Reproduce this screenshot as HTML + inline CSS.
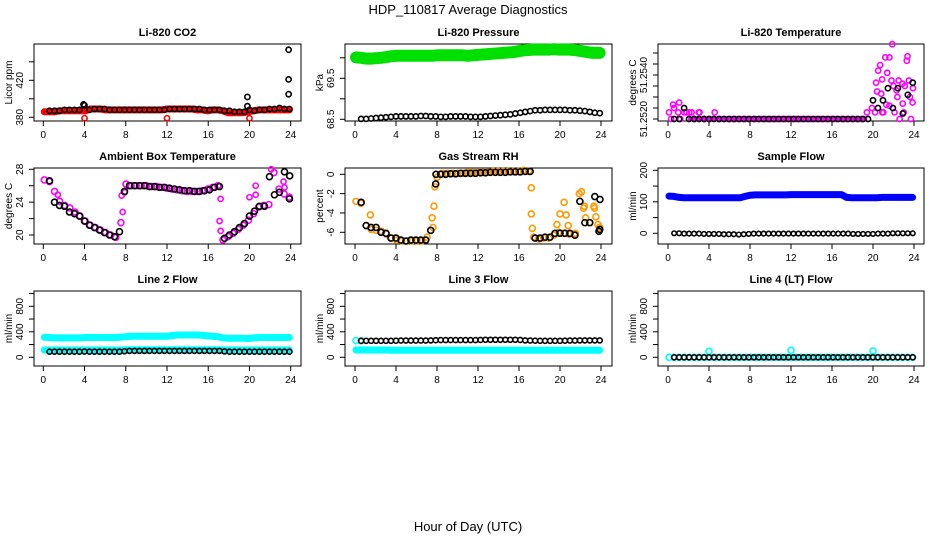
<!DOCTYPE html>
<html><head><meta charset="utf-8"><style>
body{margin:0;background:#fff}
svg{display:block;font-family:"Liberation Sans",Arial,sans-serif}
</style></head><body>
<svg id="chart" width="936" height="540" viewBox="0 0 936 540">
<text x="468" y="14" text-anchor="middle" font-size="13">HDP_110817  Average Diagnostics</text>
<text x="468" y="531" text-anchor="middle" font-size="13">Hour of Day (UTC)</text>
</svg>
<script>
const xTicks=[0,4,8,12,16,20,24];
const blackHours=Array.from({length:49},(_,k)=>0.6+k*0.485);
const colorHours=Array.from({length:49},(_,k)=>0.1+k*0.495);

const co2Red=[386,386,386,387,387,387,387,387,387,389,389,389,388,388,388,388,388,388,388,388,388,388,388,388,389,389,389,389,389,389,388,388,387,388,388,387,385,385,385,385,386,387,388,388,388,388,388,388,388];
const co2RedExtraX=[4.0,12.0,20.0];
const co2RedExtraY=[379,379,379];
const co2Black=[387,387,387,388,388,388,388,393,388,389,389,389,388,388,388,388,388,388,388,388,388,388,388,388,389,389,389,389,389,389,389,388,388,388,388,387,387,386,386,386,388,387,388,388,389,389,390,389,389];
const co2BlackExtraX=[3.9,19.8,19.8,23.8,23.8,23.8];
const co2BlackExtraY=[394,402,392,405,421,453];

const presGreen=[70.01,70.0,69.98,69.98,69.99,70.0,70.02,70.04,70.05,70.05,70.05,70.05,70.05,70.05,70.05,70.05,70.06,70.06,70.06,70.06,70.06,70.06,70.05,70.06,70.07,70.08,70.09,70.1,70.11,70.12,70.13,70.14,70.16,70.18,70.19,70.2,70.2,70.2,70.2,70.21,70.2,70.2,70.2,70.19,70.17,70.15,70.13,70.12,70.12];
const presBlack=[68.51,68.51,68.52,68.53,68.54,68.55,68.56,68.57,68.57,68.57,68.57,68.57,68.58,68.58,68.57,68.57,68.56,68.56,68.57,68.57,68.57,68.57,68.56,68.56,68.56,68.57,68.58,68.59,68.6,68.61,68.62,68.64,68.66,68.68,68.7,68.72,68.72,68.73,68.73,68.73,68.73,68.73,68.72,68.72,68.71,68.7,68.68,68.66,68.65];

const tempMag=[0.6,1.0,1.5,0.6,0.6,0,0.6,0,0,0.6,0,0,0,0,0,0,0,0,0,0,0,0,0,0,0,0,0,0,0,0,0,0,0,0,0,0,0,0,0,0.6,1.0,2.5,3.6,4.2,6.8,2.0,3.2,5.7,1.5];
const tempMagExtraX=[0.3,0.5,1.0,1.2,1.8,2.3,3.0,20.2,20.3,20.5,20.7,20.8,21.0,21.2,21.6,21.6,21.8,22.0,22.3,22.5,22.6,22.9,23.0,23.3,23.5,23.6,23.7,23.9,20.9,21.3,22.1,23.1];
const tempMagExtraY=[0,1.3,0.6,0,0.6,0.6,0.6,0.6,3.3,4.4,4.9,2.3,0.6,5.6,5.6,1.2,3.5,3.0,2.6,3.5,0,1.4,0.6,5.3,3.5,2.0,0,2.8,0.6,1.3,0.6,3.0];
const tempBlack=[0,0,1.0,0,0,0,0,0,0,0,0,0,0,0,0,0,0,0,0,0,0,0,0,0,0,0,0,0,0,0,0,0,0,0,0,0,0,0,0,0,1.7,1.0,1.7,2.8,1.0,2.8,0.5,2.2,3.3];

const ambMag=[26.7,26.5,25.3,24.1,23.6,23.3,22.8,22.3,21.7,21.2,20.9,20.6,20.3,20.0,19.7,21.5,26.2,26.0,26.0,26.0,26.0,25.9,25.9,25.8,25.7,25.6,25.5,25.4,25.3,25.3,25.3,25.4,25.6,25.8,26.0,19.4,19.8,20.2,20.7,21.2,21.8,22.6,23.4,23.6,23.7,27.6,25.6,25.0,24.6];
const ambMagExtraX=[7.7,7.6,17.2,17.1,17.2,1.4,20.0,20.6,20.6,22.1,23.3,23.4,7.9];
const ambMagExtraY=[22.8,24.8,24.4,21.7,20.5,24.9,24.6,26.0,24.9,28.0,26.5,25.8,25.2];
const ambBlack=[26.6,24.0,23.6,23.5,22.8,22.6,22.3,21.7,21.2,20.9,20.6,20.3,20.0,19.8,20.4,25.3,26.0,26.0,26.0,26.0,25.9,25.9,25.8,25.8,25.7,25.6,25.5,25.4,25.4,25.3,25.3,25.4,25.5,25.8,25.9,19.6,20.0,20.4,20.9,21.4,22.3,22.9,23.5,23.5,27.1,24.9,25.2,27.7,24.4];
const ambBlackExtraX=[23.9];
const ambBlackExtraY=[27.2];

const rhOrange=[-2.8,-3.0,-5.3,-5.7,-5.8,-5.9,-6.2,-6.6,-6.8,-6.9,-6.9,-6.9,-6.9,-6.9,-6.5,-4.5,-0.3,0.1,0.1,0.1,0.1,0.1,0.2,0.2,0.2,0.2,0.2,0.3,0.3,0.3,0.3,0.3,0.3,0.4,0.3,-6.5,-6.7,-6.6,-6.6,-6.3,-6.0,-6.1,-6.2,-6.2,-2.0,-3.3,-5.0,-3.5,-5.5];
const rhOrangeExtraX=[1.5,7.6,7.7,7.8,17.2,17.2,17.3,20.0,20.4,20.6,20.8,19.7,22.1,22.3,22.5,23.3,23.5,23.7,21.5];
const rhOrangeExtraY=[-4.2,-5.5,-3.3,-1.3,-1.4,-4.1,-5.6,-4.1,-2.9,-4.2,-5.3,-5.2,-1.8,-3.5,-4.5,-3.3,-4.4,-5.2,-6.1];
const rhBlack=[-2.9,-5.3,-5.5,-5.5,-6.0,-6.1,-6.6,-6.6,-6.8,-6.9,-6.8,-6.8,-6.8,-6.8,-5.8,-1.0,0.0,0.0,0.05,0.05,0.1,0.1,0.1,0.1,0.15,0.15,0.2,0.2,0.2,0.2,0.25,0.25,0.25,0.3,0.3,-6.6,-6.6,-6.5,-6.5,-6.1,-6.1,-6.1,-6.1,-6.3,-2.8,-5.0,-5.0,-2.3,-5.7];
const rhBlackExtraX=[7.9,23.9,23.8];
const rhBlackExtraY=[0.0,-2.6,-5.9];

const sampleBlue=[118,117,114,113,113,113,113,113,113,113,113,113,113,113,113,117,121,122,122,122,122,122,122,122,123,123,123,123,123,123,123,123,123,123,123,114,113,113,113,113,113,113,114,114,114,114,114,114,114];
const sampleBlack=[0,0,-1,-1,-1,-1,-2,-2,-2,-2,-3,-3,-3,-4,-3,-2,-1,-1,-1,-1,-1,-1,-1,-1,-1,-1,-1,-1,-1,-1,-1,-1,-1,-1,-1,-1,-2,-2,-2,-2,-2,-1,-1,-1,0,0,0,0,0];

const line2CyanHigh=[315,310,305,305,305,305,305,305,310,310,310,310,310,310,310,315,325,330,330,330,330,330,330,330,330,340,350,350,350,350,350,345,335,330,325,305,300,300,300,300,295,305,310,310,310,310,310,310,310];
const line2CyanLow=[115,115,115,115,115,115,115,115,115,115,115,115,115,115,115,115,120,120,120,120,120,120,120,120,120,120,120,120,120,120,120,120,120,120,120,115,115,115,115,115,115,115,115,115,115,115,115,115,115];
const line2Black=[88,88,88,88,88,88,88,90,88,88,88,88,88,88,88,95,100,100,100,100,100,100,100,100,100,100,100,100,100,100,100,100,100,100,100,92,88,88,88,88,88,88,88,88,88,88,88,88,88];
const line3CyanHigh=[260,258];
const line3CyanLow=[115,115,115,115,115,115,115,110,110,110,110,110,110,110,110,110,110,110,110,110,110,110,110,110,110,110,110,110,110,110,110,110,110,110,110,110,110,110,110,110,110,110,110,110,110,110,110,110,110];
const line3Black=[258,258,258,258,258,258,258,260,262,262,262,262,262,262,265,268,270,270,270,270,270,270,270,270,272,275,275,275,275,275,275,275,272,265,262,260,258,258,258,258,258,260,262,262,265,265,265,265,265];
const line4Cyan=[0,0,0,0,0,0,0,0,0,0,0,0,0,0,0,0,0,0,0,0,0,0,0,0,0,0,0,0,0,0,0,0,0,0,0,0,0,0,0,0,0,0,0,0,0,0,0,0,0];
const line4CyanExtraX=[4.0,12.0,20.0];
const line4CyanExtraY=[95,110,100];
const line4Black=[0,0,0,0,0,0,0,0,0,0,0,0,0,0,0,0,0,0,0,0,0,0,0,0,0,0,0,0,0,0,0,0,0,0,0,0,0,0,0,0,0,0,0,0,0,0,0,0,0];

const svg=document.getElementById('chart');
const NS='http://www.w3.org/2000/svg';
function mk(tag,attrs,parent){const e=document.createElementNS(NS,tag);for(const k in attrs)e.setAttribute(k,attrs[k]);(parent||svg).appendChild(e);return e;}

const cols=[{bl:34,br:301,h0:43.3,h24:290.7,yl:12,tl:23},{bl:345,br:612,h0:355,h24:601,yl:323,tl:334},{bl:658,br:924,h0:668,h24:914,yl:636,tl:647}];
const rows=[{bt:44,bb:121,title:36,xl:140},{bt:168,bb:244,title:160,xl:265},{bt:291,bb:366,title:283,xl:387}];

function panel(name,title,ylab,c,r,v0,p0,v1,p1,ticks,labels,labelText){
  const C=cols[c],R=rows[r];
  const g=mk('g',{});
  
  
  const xs=h=>C.h0+(C.h24-C.h0)*h/24;
  const ys=v=>p0+(p1-p0)*(v-v0)/(v1-v0);
  const box=mk('rect',{x:C.bl,y:R.bt,width:C.br-C.bl,height:R.bb-R.bt,fill:'none',stroke:'#000','stroke-width':1},g);
  
  
  const t=mk('text',{x:(C.bl+C.br)/2,y:R.title,'text-anchor':'middle','font-size':11,'font-weight':'bold'},g);
  t.textContent=title;
  
  
  const cy=(R.bt+R.bb)/2;
  const yl=mk('text',{x:C.yl,y:cy,'text-anchor':'middle','font-size':10,transform:`rotate(-90 ${C.yl} ${cy})`},g);
  yl.textContent=ylab;
  
  
  const xa=mk('g',{},g);
  
  
  mk('line',{x1:xs(0),x2:xs(24),y1:R.bb,y2:R.bb,stroke:'#000'},xa);
  xTicks.forEach(h=>{mk('line',{x1:xs(h),x2:xs(h),y1:R.bb,y2:R.bb+5,stroke:'#000'},xa);
    const tx=mk('text',{x:xs(h),y:R.bb+17,'text-anchor':'middle','font-size':10},xa);tx.textContent=h;
    
    });
  const ya=mk('g',{},g);
  
  
  mk('line',{x1:C.bl,x2:C.bl,y1:ys(ticks[0]),y2:ys(ticks[ticks.length-1]),stroke:'#000'},ya);
  ticks.forEach(v=>mk('line',{x1:C.bl-5,x2:C.bl,y1:ys(v),y2:ys(v),stroke:'#000'},ya));
  labels.forEach((v,i)=>{const yy=ys(v);const tx=mk('text',{x:C.tl,y:yy,'text-anchor':'middle','font-size':10,transform:`rotate(-90 ${C.tl} ${yy})`},ya);
    tx.textContent=labelText?labelText[i]:v;
    
    });
  const clip='clip'+name;
  const cp=mk('clipPath',{id:clip},g);mk('rect',{x:C.bl,y:R.bt-4,width:C.br-C.bl,height:R.bb-R.bt+8},cp);
  const data=mk('g',{'clip-path':`url(#${clip})`},g);
  
  
  return {xs,ys,data};
}
function band(P,hours,vals,color,w,label){
  const p=hours.slice(0,vals.length).map((h,i)=>P.xs(h).toFixed(1)+','+P.ys(vals[i]).toFixed(1)).join(' ');
  const pl=mk('polyline',{points:p,fill:'none',stroke:color,'stroke-width':w,'stroke-linejoin':'round','stroke-linecap':'round'},P.data);
  
  
}
function pts(P,hours,vals,color,label,r){
  vals.forEach((v,i)=>{const c=mk('circle',{cx:P.xs(hours[i]),cy:P.ys(v),r:r||2.6,fill:'none',stroke:color,'stroke-width':1.6},P.data);
    
    });
}

let P;
P=panel('co2-panel','Li-820 CO2','Licor ppm',0,0,380,117.3,420,80.3,[380,400,420,440],[380,420]);
band(P,colorHours,co2Red,'#ff0000',7,'co2-red-series');
pts(P,colorHours,co2Red,'#ff0000','co2-red-point');
pts(P,co2RedExtraX,co2RedExtraY,'#ff0000','co2-red-point');
pts(P,blackHours,co2Black,'#000','co2-black-point');
pts(P,co2BlackExtraX,co2BlackExtraY,'#000','co2-black-point');

P=panel('pressure-panel','Li-820 Pressure','kPa',1,0,68.5,119.3,69.5,78.3,[68.5,69,69.5,70],[68.5,69.5]);
band(P,colorHours,presGreen,'#00e000',12,'pressure-green-series');
pts(P,blackHours,presBlack,'#000','pressure-black-point');

P=panel('li820-temp-panel','Li-820 Temperature','degrees C',2,0,0,119,6,53,[0,1,2,3,4,5,6],[0,4],['51.2520','51.2540']);
pts(P,colorHours,tempMag,'#ff00ff','temp-magenta-point');
pts(P,tempMagExtraX,tempMagExtraY,'#ff00ff','temp-magenta-point');
band(P,[2.2,19.2],[0,0],'#ff00ff',5,'temp-magenta-baseline');
pts(P,blackHours,tempBlack,'#000','temp-black-point');

P=panel('ambient-panel','Ambient Box Temperature','degrees C',0,1,20,235,28,169.3,[20,22,24,26,28],[20,24,28]);
pts(P,colorHours,ambMag,'#ff00ff','ambient-magenta-point',3);
pts(P,ambMagExtraX,ambMagExtraY,'#ff00ff','ambient-magenta-point');
pts(P,blackHours,ambBlack,'#000','ambient-black-point',3);
pts(P,ambBlackExtraX,ambBlackExtraY,'#000','ambient-black-point',3);

P=panel('rh-panel','Gas Stream RH','percent',1,1,0,174.3,-6,232.3,[0,-2,-4,-6],[0,-2,-4,-6]);
pts(P,colorHours,rhOrange,'#ff9900','rh-orange-point',3);
pts(P,rhOrangeExtraX,rhOrangeExtraY,'#ff9900','rh-orange-point',3);
pts(P,blackHours,rhBlack,'#000','rh-black-point',3);
pts(P,rhBlackExtraX,rhBlackExtraY,'#000','rh-black-point',3);

P=panel('sample-flow-panel','Sample Flow','ml/min',2,1,0,233.3,200,170.3,[0,50,100,150,200],[0,100,200]);
band(P,colorHours,sampleBlue,'#0000ff',7,'sample-blue-series');
pts(P,blackHours,sampleBlack,'#000','sample-black-point',2.3);

P=panel('line2-panel','Line 2 Flow','ml/min',0,2,0,357.3,800,306.3,[0,200,400,600,800,1000],[0,400,800]);
band(P,colorHours,line2CyanHigh,'#00ffff',7,'line2-cyan-high-series');
band(P,colorHours,line2CyanLow,'#00ffff',7,'line2-cyan-low-series');
pts(P,blackHours,line2Black,'#000','line2-black-point',2.5);

P=panel('line3-panel','Line 3 Flow','ml/min',1,2,0,357.3,800,306.3,[0,200,400,600,800,1000],[0,400,800]);
band(P,colorHours,line3CyanLow,'#00ffff',7,'line3-cyan-low-series');
pts(P,colorHours,line3CyanHigh,'#00ffff','line3-cyan-high-point',3);
pts(P,blackHours,line3Black,'#000','line3-black-point',2.5);

P=panel('line4-panel','Line 4 (LT) Flow','ml/min',2,2,0,357.3,800,306.3,[0,200,400,600,800,1000],[0,400,800]);
pts(P,colorHours,line4Cyan,'#00ffff','line4-cyan-point',3);
pts(P,line4CyanExtraX,line4CyanExtraY,'#00ffff','line4-cyan-point',3);
pts(P,blackHours,line4Black,'#000','line4-black-point',2.5);
</script>
</body></html>
